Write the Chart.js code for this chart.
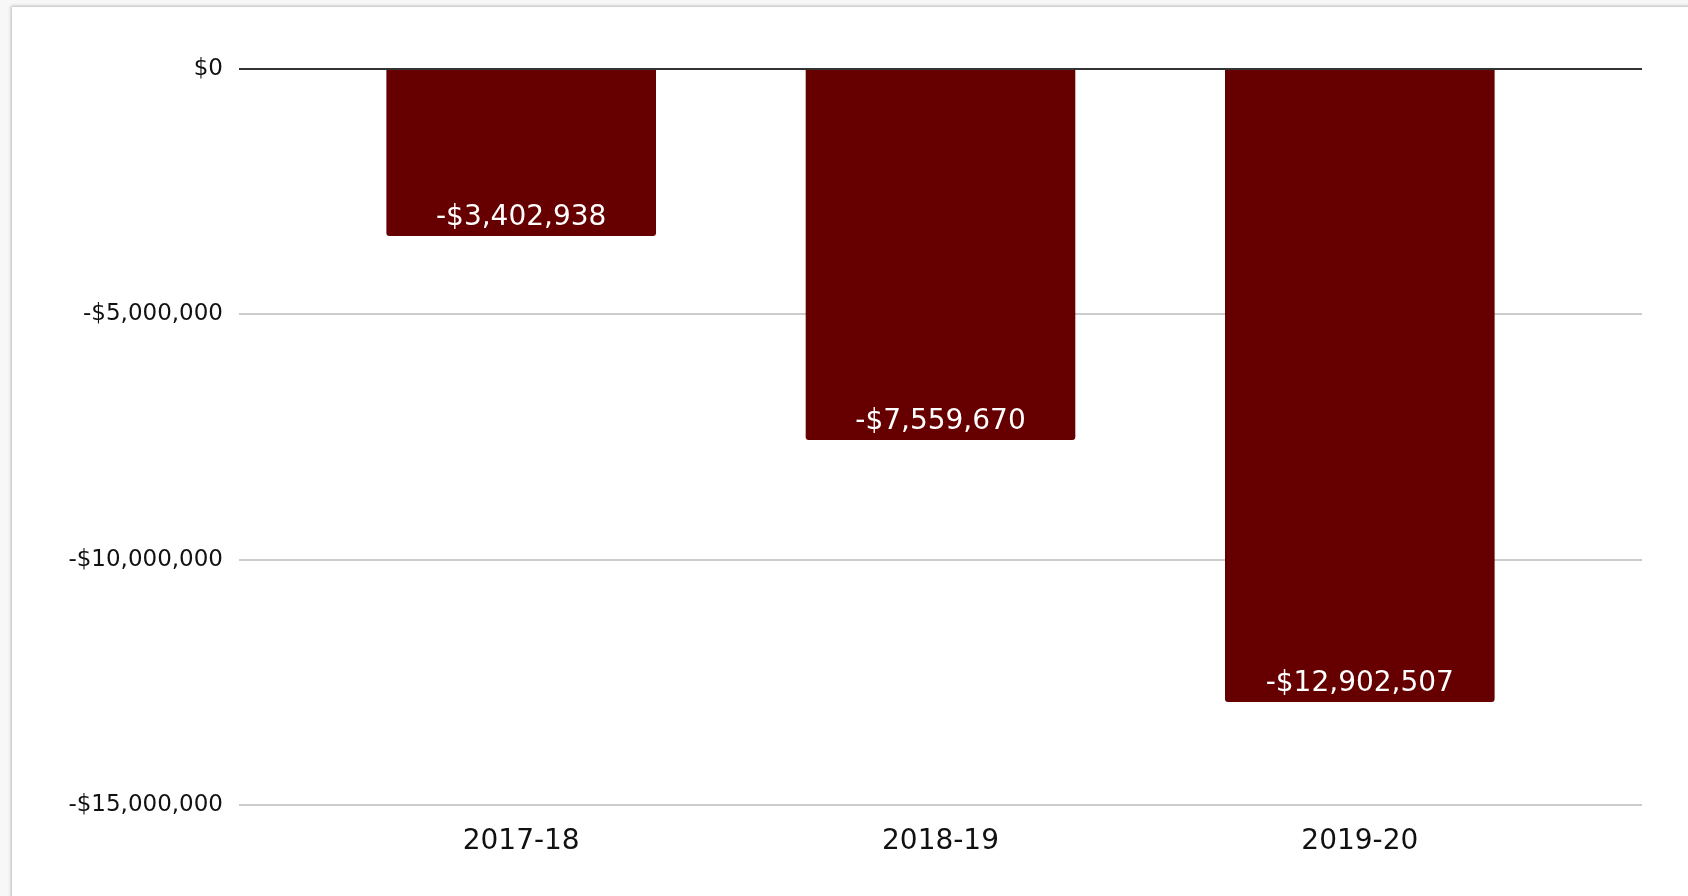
<!DOCTYPE html>
<html>
<head>
<meta charset="utf-8">
<script src="https://cdn.jsdelivr.net/npm/chart.js@4/dist/chart.umd.min.js"></script>
<style>
  html, body { margin: 0; padding: 0; background: #f7f7f7; width: 1688px; height: 896px; overflow: hidden; }
  #card { position: absolute; left: 12px; top: 7px; width: 1700px; height: 900px; background: #fff;
          box-shadow: -1px -1px 3px rgba(0,0,0,0.25); }
  #wrap { position: absolute; left: 0; top: 0; width: 1688px; height: 896px; }
</style>
</head>
<body>
<div id="card"></div>
<div id="wrap"><canvas id="c" width="1688" height="896"></canvas></div>
<script>
// ---- data ----
const categories = ["2017-18", "2018-19", "2019-20"];
const values = [-3402938, -7559670, -12902507];
const yTicks = [0, -5000000, -10000000, -15000000];

function money(v) {
  const s = Math.abs(Math.round(v)).toLocaleString('en-US');
  return (v < 0 ? '-$' : '$') + s;
}

const dataLabels = {
  id: 'dataLabels',
  afterDatasetsDraw(chart) {
    const ctx = chart.ctx;
    const meta = chart.getDatasetMeta(0);
    ctx.save();
    ctx.fillStyle = '#ffffff';
    ctx.font = '28px "DejaVu Sans"';
    ctx.textAlign = 'center';
    ctx.textBaseline = 'middle';
    meta.data.forEach((bar, i) => {
      ctx.fillText(money(values[i]), bar.x, bar.y - 18);
    });
    ctx.restore();
  }
};

new Chart(document.getElementById('c'), {
  type: 'bar',
  data: {
    datasets: [{
      data: values.map((v, i) => ({ x: i, y: v })),
      backgroundColor: '#660000',
      borderRadius: 3,
      barPercentage: 0.643,
      categoryPercentage: 1
    }]
  },
  options: {
    responsive: false,
    animation: false,
    layout: { padding: { top: 69, right: 46, left: 0, bottom: 0 } },
    plugins: { legend: { display: false }, tooltip: { enabled: false } },
    scales: {
      x: {
        type: 'linear',
        offset: false,
        min: -0.673,
        max: 2.673,
        grid: { display: false, drawTicks: false, offset: false },
        border: { display: false },
        afterBuildTicks(scale) { scale.ticks = categories.map((c, i) => ({ value: i })); },
        afterFit(scale) { scale.height = 91; },
        ticks: {
          padding: 20,
          color: '#111',
          font: { family: '"DejaVu Sans"', size: 28 },
          callback: (v) => categories[v]
        }
      },
      y: {
        min: -15000000,
        max: 0,
        afterBuildTicks(scale) { scale.ticks = yTicks.map(v => ({ value: v })); },
        afterFit(scale) { scale.width = 239; },
        grid: {
          drawTicks: false,
          color: (c) => c.tick && c.tick.value === 0 ? '#333333' : '#cccccc',
          lineWidth: 2
        },
        border: { display: false },
        ticks: {
          padding: 16,
          color: '#111',
          font: { family: '"DejaVu Sans"', size: 23 },
          callback: (v) => money(v)
        }
      }
    }
  },
  plugins: [dataLabels]
});
</script>
</body>
</html>
